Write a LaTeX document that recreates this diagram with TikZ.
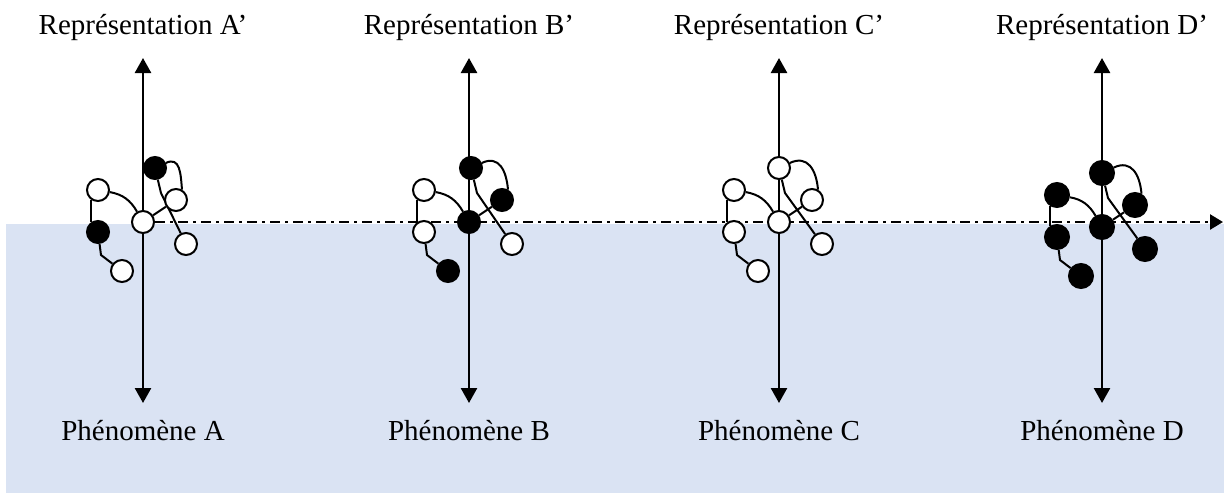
\documentclass[tikz,border=0pt]{standalone}
\usepackage{fontspec}
\setmainfont{Liberation Serif}
\usetikzlibrary{arrows.meta,backgrounds}
\definecolor{waterblue}{HTML}{DAE3F3}

\begin{document}
\begin{tikzpicture}[x=1pt,y=1pt,
	bead/.style={circle,draw,line width=2pt,inner sep=0pt},
	link/.style={line width=2pt},
	axisarrow/.style={line width=2.5pt,{Triangle[width=16pt,length=15pt]}-{Triangle[width=16pt,length=15pt]}},
	surface/.style={line width=2.5pt,dash pattern=on 10pt off 5pt on 3pt off 5pt,-{Triangle[width=15pt,length=13pt]}},
	lbl/.style={font=\fontsize{29}{34}\selectfont,anchor=base}]
	\useasboundingbox (0,0) rectangle (1224,-493);
	% beads of the four chains
	\foreach \n/\x/\dy/\sz/\tx/\ct/\cr/\cl/\cc/\cll/\crb/\cb in {
		A/143/0/22pt/12/black/white/white/white/black/white/white,
		B/469/0/22pt/2/black/black/white/black/white/white/black,
		C/779/0/22pt/0/white/white/white/white/white/white/white,
		D/1102/5/24pt/0/black/black/black/black/black/black/black}
	{
		\node[bead,minimum size=\sz,fill=\ct] (top\n) at (\x+\tx,-222-\dy+54) {};
		\node[bead,minimum size=\sz,fill=\cr] (right\n) at (\x+33,-222-\dy+22) {};
		\node[bead,minimum size=\sz,fill=\cl] (left\n) at (\x-45,-222-\dy+32) {};
		\node[bead,minimum size=\sz,fill=\cc] (center\n) at (\x,-222-\dy) {};
		\node[bead,minimum size=\sz,fill=\cll] (leftlow\n) at (\x-45,-222-\dy-10) {};
		\node[bead,minimum size=\sz,fill=\crb] (rb\n) at (\x+43,-222-\dy-22) {};
		\node[bead,minimum size=\sz,fill=\cb] (bottom\n) at (\x-21,-222-\dy-49) {};
		\coordinate (up\n) at (\x,-58);
		\coordinate (down\n) at (\x,-403);
		\node[lbl] (rep\n) at (\x,-34) {Représentation \n’};
		\node[lbl] (phen\n) at (\x,-440) {Phénomène \n};
	}
	\begin{scope}[on background layer]
		\fill[waterblue] (6,-224) rectangle (1224,-493);
		\coordinate (surfend) at (1223,-222);
		\draw[surface] (centerA) -- (surfend);
		\foreach \n in {A,B,C,D}
		{
			\draw[axisarrow] (up\n) -- (down\n);
			\draw[link] (top\n) to[out=25,in=95,looseness=1.3] (right\n.60);
			\draw[link] (top\n) -- ++(6,-25) -- (rb\n);
			\draw[link] (right\n) -- (center\n);
			\draw[link] (left\n) to[out=-10,in=120] (center\n);
			\draw[link] (left\n.235) -- (leftlow\n.125);
			\draw[link] (leftlow\n) -- ++(3,-23) -- (bottom\n);
		}
	\end{scope}
\end{tikzpicture}
\end{document}
